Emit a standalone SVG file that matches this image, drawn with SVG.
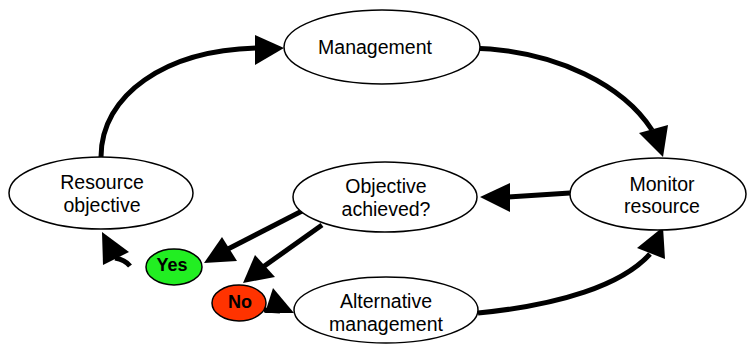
<svg xmlns="http://www.w3.org/2000/svg" width="747" height="345" viewBox="0 0 747 345">
<style>
.node{fill:#fff;stroke:#000;stroke-width:1.5}
.lbl{font-family:"Liberation Sans",Arial,sans-serif;font-size:19.5px;fill:#000;text-anchor:middle}
.yn{font-family:"Liberation Sans",Arial,sans-serif;font-size:18px;font-weight:bold;fill:#000;text-anchor:middle}
.edge{fill:none;stroke:#000;stroke-width:5}
.head{fill:#000;stroke:none}
</style>
<rect width="747" height="345" fill="#fff"/>
<g id="connectors">
<path class="edge" d="M101,157 C101,95 165,50 258,48"/>
<polygon class="head" points="284,48 255,35 255,65"/>
<path class="edge" d="M470,48 C560,50 625,88 652,130"/>
<polygon class="head" points="663,157 639,133 668,125"/>
<path class="edge" d="M570,193 L508,197"/>
<polygon class="head" points="480,197 510,183 510,212"/>
<path class="edge" d="M478,313 C560,305 622,285 650,254"/>
<polygon class="head" points="663,227 637,248 665,259"/>
<path class="edge" d="M302,211 L228,249"/>
<polygon class="head" points="204,263 222,237 237,261"/>
<path class="edge" d="M322,225 L263,267"/>
<polygon class="head" points="243,283 255,255 275,277"/>
<path class="edge" d="M264,310 L280,311"/>
<polygon class="head" points="273,288 265,313 294,313"/>
<path class="edge" d="M130,266 C126,261 121,259 115,258"/>
<polygon class="head" points="102,232 129,252 103,265"/>
</g>
<g id="management">
<ellipse class="node" cx="382" cy="47" rx="98" ry="37"/>
<text class="lbl" x="375" y="54">Management</text>
</g>
<g id="resource-objective">
<ellipse class="node" cx="101" cy="193" rx="92" ry="36"/>
<text class="lbl" x="102" y="189">Resource</text>
<text class="lbl" x="102" y="212">objective</text>
</g>
<g id="objective-achieved">
<ellipse class="node" cx="385" cy="197" rx="92" ry="35"/>
<text class="lbl" x="386" y="193">Objective</text>
<text class="lbl" x="386" y="216">achieved?</text>
</g>
<g id="monitor-resource">
<ellipse class="node" cx="658" cy="194" rx="88" ry="36"/>
<text class="lbl" x="662" y="191">Monitor</text>
<text class="lbl" x="662" y="213">resource</text>
</g>
<g id="alternative-management">
<ellipse class="node" cx="386" cy="310" rx="92" ry="33"/>
<text class="lbl" x="386" y="308">Alternative</text>
<text class="lbl" x="386" y="331">management</text>
</g>
<g id="yes">
<ellipse cx="174" cy="267" rx="28" ry="18" fill="#22ee22" stroke="#000" stroke-width="1.5"/>
<text class="yn" x="172" y="271">Yes</text>
</g>
<g id="no">
<ellipse cx="239" cy="303" rx="27" ry="18" fill="#ff3300" stroke="#000" stroke-width="1.5"/>
<text class="yn" x="240" y="308">No</text>
</g>
</svg>
